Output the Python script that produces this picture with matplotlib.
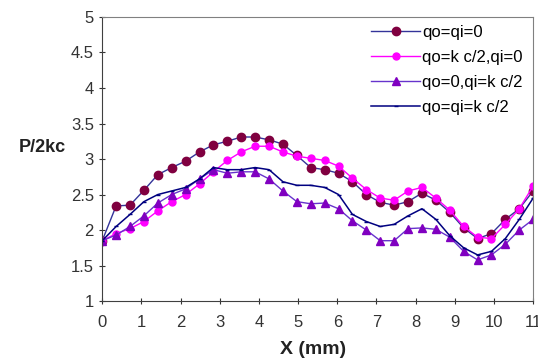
import numpy as np
import matplotlib
matplotlib.use("Agg")
import matplotlib.pyplot as plt

plt.rcParams['font.family'] = ['Liberation Sans', 'DejaVu Sans']

# 32 samples evenly spaced over 0..11 mm
x = np.linspace(0, 11, 32)

p_00 = [1.85, 2.34, 2.35, 2.56, 2.78, 2.88, 2.97, 3.10, 3.20, 3.25, 3.31, 3.31,
        3.27, 3.21, 3.05, 2.88, 2.85, 2.80, 2.68, 2.50, 2.39, 2.35, 2.40, 2.52,
        2.42, 2.25, 2.03, 1.88, 1.95, 2.15, 2.30, 2.55]
p_kc0 = [1.85, 1.95, 2.02, 2.12, 2.27, 2.40, 2.50, 2.65, 2.82, 2.98, 3.10, 3.18,
         3.18, 3.10, 3.04, 3.01, 2.98, 2.90, 2.73, 2.57, 2.45, 2.42, 2.55, 2.60,
         2.45, 2.28, 2.05, 1.90, 1.88, 2.08, 2.30, 2.62]
p_0kc = [1.85, 1.93, 2.05, 2.20, 2.38, 2.50, 2.58, 2.72, 2.85, 2.80, 2.82, 2.82,
         2.72, 2.55, 2.40, 2.37, 2.38, 2.30, 2.13, 2.00, 1.85, 1.85, 2.02, 2.03,
         2.01, 1.90, 1.70, 1.58, 1.65, 1.80, 2.00, 2.15]
p_kckc = [1.85, 2.05, 2.22, 2.40, 2.50, 2.55, 2.60, 2.72, 2.88, 2.85, 2.85, 2.88,
          2.85, 2.68, 2.63, 2.63, 2.60, 2.50, 2.22, 2.12, 2.05, 2.08, 2.20, 2.30,
          2.15, 1.92, 1.75, 1.65, 1.70, 1.88, 2.15, 2.45]

labels = ['qo=qi=0', 'qo=k c/2,qi=0', 'qo=0,qi=k c/2', 'qo=qi=k c/2']

fig = plt.figure(figsize=(5.38, 3.61), dpi=100)
ax = fig.add_axes([0.19, 0.166, 0.801, 0.787])

ax.plot(x, p_00, color='#333399', lw=1, marker='o', ms=6,
        mfc='#800040', mec='#800040', label=labels[0])
ax.plot(x, p_kc0, color='#ff00ff', lw=1, marker='o', ms=5,
        mfc='#ff00ff', mec='#ff00ff', label=labels[1])
ax.plot(x, p_0kc, color='#6633cc', lw=1, marker='^', ms=6,
        mfc='#8000c0', mec='#8000c0', label=labels[2])
ax.plot(x, p_kckc, color='#000080', lw=1.1, marker='_', ms=3,
        mfc='#000080', mec='#000080', label=labels[3])

ax.set_xlim(0, 11)
ax.set_ylim(1, 5)
ax.set_xticks(range(0, 12))
ax.set_yticks([1, 1.5, 2, 2.5, 3, 3.5, 4, 4.5, 5])
ax.set_yticklabels(['1', '1.5', '2', '2.5', '3', '3.5', '4', '4.5', '5'])
ax.tick_params(direction='inout', length=4, width=0.8, labelsize=12,
               colors='#333333')
ax.tick_params(axis='x', pad=8)
ax.tick_params(axis='y', pad=4)

for s in ['top', 'right']:
    ax.spines[s].set_color('#808080')
for s in ['left', 'bottom']:
    ax.spines[s].set_color('#404040')

ax.set_xlabel('X (mm)', fontsize=14, fontweight='bold', color='#222222')
ax.set_ylabel('P/2kc', fontsize=13, fontweight='bold', color='#222222',
              rotation=0, ha='center', va='center')
ax.yaxis.set_label_coords(-0.14, 0.54)
ax.xaxis.set_label_coords(0.49, -0.14)

ax.legend(loc='upper right', frameon=False, fontsize=12, handlelength=2.9,
          handletextpad=0.15, labelspacing=0.6, borderaxespad=0.1,
          bbox_to_anchor=(0.995, 1.0))

fig.savefig('out.png', dpi=100)
